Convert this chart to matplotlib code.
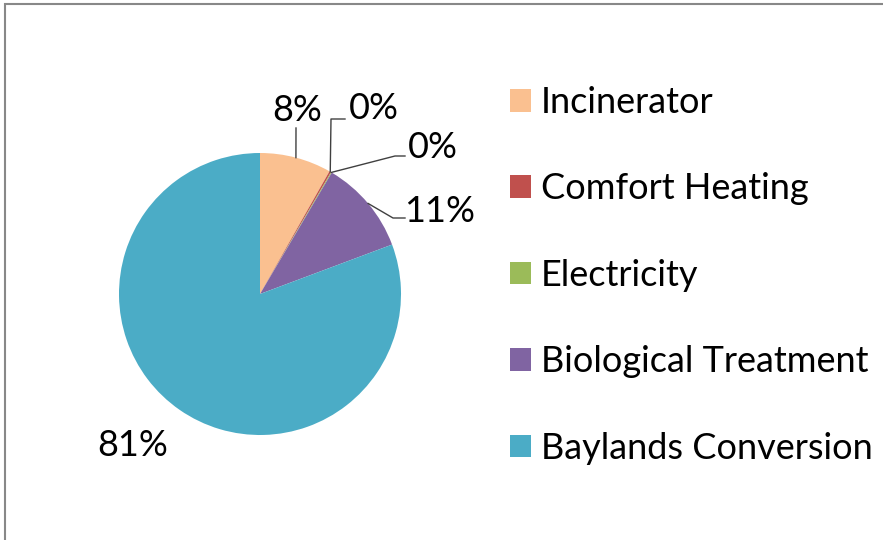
#!/usr/bin/env python
# -*- coding: utf-8 -*-

import numpy as np
import matplotlib
matplotlib.use('Agg')
import matplotlib.pyplot as plt
import matplotlib.patches as mp

categories = ['Incinerator', 'Comfort Heating', 'Electricity',
              'Biological Treatment', 'Baylands Conversion']
shares = [8.2, 0.2, 0.1, 10.8, 80.7]
colors = ['#FAC090', '#C0504D', '#9BBB59', '#8064A2', '#4BACC6']

W, H = 883, 540
CX, CY, R = 260, 294, 141
FS = 26


def px(x, y):
    # pixel (from top-left) -> data coords, pie radius = 1
    return (x - CX) / R, (CY - y) / R


def main():
    plt.rcParams['font.family'] = ['Lato', 'DejaVu Sans']
    fig = plt.figure(figsize=(W / 100, H / 100), dpi=100)
    ax = fig.add_axes([0, 0, 1, 1])
    wedges, _ = ax.pie(shares, colors=colors, startangle=90, counterclock=False,
                       radius=1, wedgeprops=dict(linewidth=0))
    ax.set_xlim(-CX / R, (W - CX) / R)
    ax.set_ylim((CY - H) / R, CY / R)
    ax.set_aspect('auto')
    ax.axis('off')

    # data labels with leader lines: (text pixel pos, elbow points)
    lab = [((297, 110), [(296, 128)]),
           ((374, 108), [(331, 119), (345, 119)]),
           ((433, 147), [(395, 156), (405, 156)]),
           ((440, 211), [(393, 218), (405, 218)]),
           ((133, 445), [])]
    for w, v, (tp, elbow) in zip(wedges, shares, lab):
        th = np.deg2rad((w.theta1 + w.theta2) / 2)
        pts = [(np.cos(th), np.sin(th))] + [px(*p) for p in elbow]
        if elbow:
            xs, ys = zip(*pts)
            ax.plot(xs, ys, color='#404040', lw=1.0)
        ax.text(*px(*tp), '%.0f%%' % v, ha='center', va='center',
                fontsize=FS, color='black')

    em = FS * 100 / 72.0
    ax.legend(wedges, categories, loc='upper left',
              bbox_to_anchor=(510 / W, 1 - 86 / H), frameon=False,
              fontsize=FS, labelspacing=1.48, handlelength=21 / em,
              handleheight=21 / em, handletextpad=0.28, borderpad=0,
              borderaxespad=0)

    # outer frame (cut at right and bottom)
    fig.add_artist(mp.Rectangle((4.5 / W, -0.1), 1.2, 1 - 3.5 / H + 0.1,
                                transform=fig.transFigure, fill=False,
                                edgecolor='#888888', lw=1.5))
    plt.savefig('out.png', dpi=100)


if __name__ == '__main__':
    main()
